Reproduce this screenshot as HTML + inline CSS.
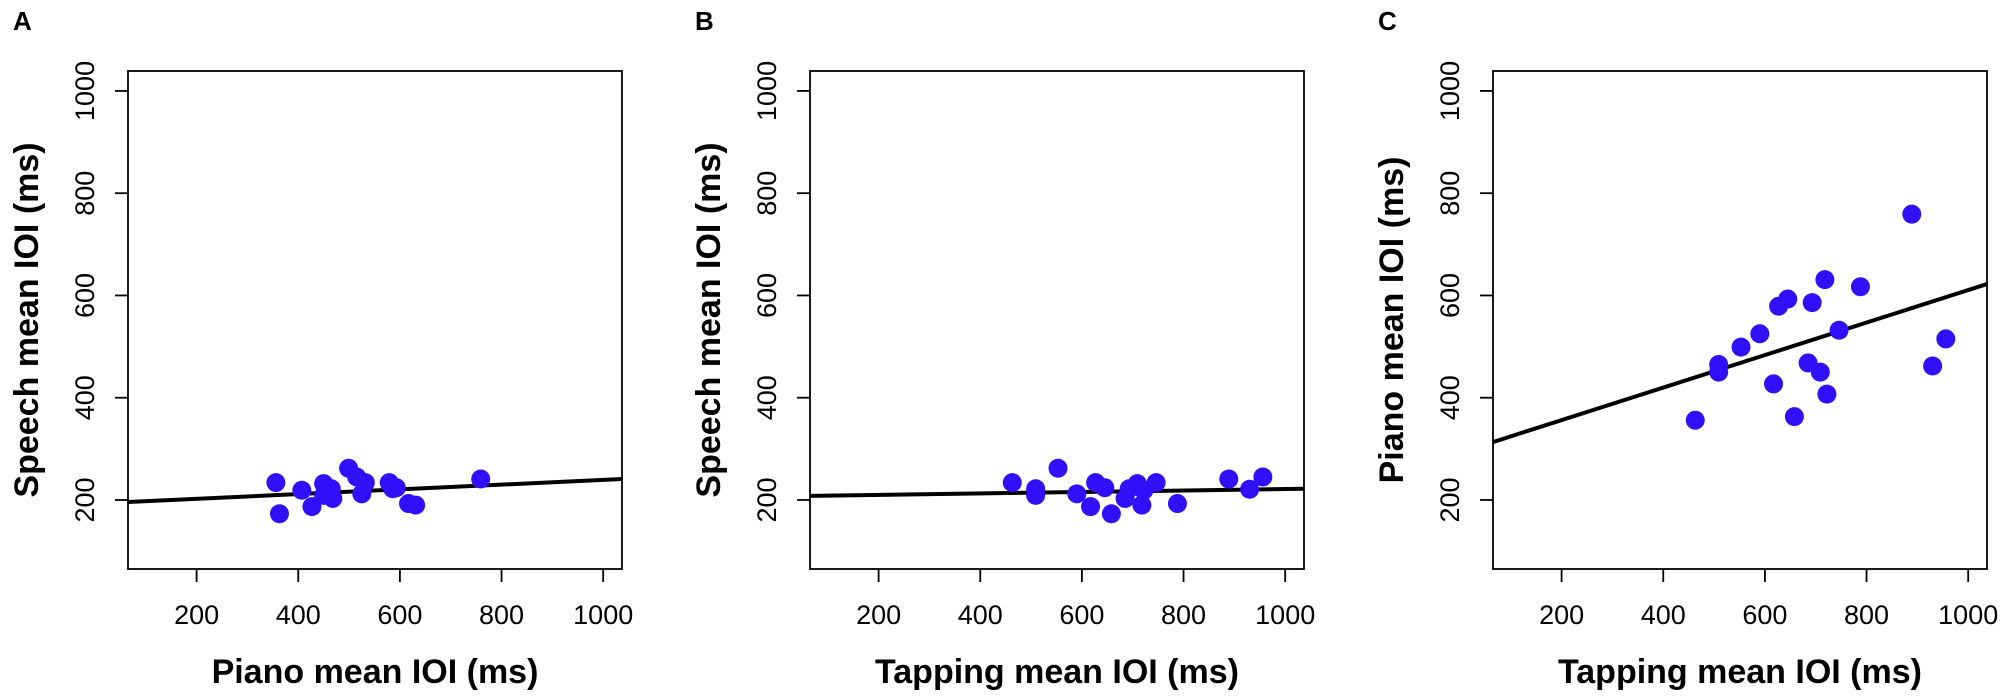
<!DOCTYPE html>
<html><head><meta charset="utf-8">
<style>
html,body{margin:0;padding:0;background:#fff;}
svg{display:block;font-family:"Liberation Sans",Arial,sans-serif;}
</style></head>
<body>
<svg id="fig" width="2008" height="698" viewBox="0 0 2008 698" xmlns="http://www.w3.org/2000/svg"></svg>
<script>
const tapping = [463,509,509,553,590,617,627,645,658,685,693,709,718,722,746,788,889,930,956];
const piano   = [356,465,450,499,525,427,579,593,363,468,586,450,631,407,532,617,759,462,515];
const speech  = [234,222,209,262,212,187,234,224,173,203,222,232,190,219,234,193,241,221,245];
const tickValues = [200,400,600,800,1000];
const tickLabels = ["200","400","600","800","1000"];
const panelLetters = ["A","B","C"];
const xTitles = ["Piano mean IOI (ms)","Tapping mean IOI (ms)","Tapping mean IOI (ms)"];
const yTitles = ["Speech mean IOI (ms)","Speech mean IOI (ms)","Piano mean IOI (ms)"];
const fitIntercepts = [193, 207, 292.6];
const fitSlopes = [0.0463, 0.0144, 0.318];

const NS = "http://www.w3.org/2000/svg";
const svg = document.getElementById("fig");
const X0 = 65, X1 = 1037, Y0 = 65, Y1 = 1039;
const BW = 494, BT = 71, BH = 498;
const lefts = [128, 810, 1493];

function mk(tag, attrs, parent){
  const e = document.createElementNS(NS, tag);
  for (const k in attrs) e.setAttribute(k, attrs[k]);
  parent.appendChild(e);
  return e;
}

const panelX = [piano, tapping, tapping];
const panelY = [speech, speech, piano];

for (let p = 0; p < 3; p++) {
  const L = lefts[p];
  const sx = v => L + (v - X0) / (X1 - X0) * BW;
  const sy = v => BT + BH - (v - Y0) / (Y1 - Y0) * BH;
  const g = mk("g", {}, svg);
  
  

  const lab = mk("text", {x: L - 115, y: 30, "font-size": 26, "font-weight": "bold"}, g);
  lab.textContent = panelLetters[p];
  
  

  const clipId = "clip" + p;
  const cp = mk("clipPath", {id: clipId}, g);
  mk("rect", {x: L, y: BT, width: BW, height: BH}, cp);
  const ln = mk("line", {x1: sx(X0), y1: sy(fitIntercepts[p] + fitSlopes[p] * X0),
    x2: sx(X1), y2: sy(fitIntercepts[p] + fitSlopes[p] * X1),
    stroke: "#000", "stroke-width": 4, "clip-path": "url(#" + clipId + ")"}, g);
  
  

  const xs = panelX[p], ys = panelY[p];
  for (let i = 0; i < xs.length; i++) {
    const c = mk("circle", {cx: sx(xs[i]), cy: sy(ys[i]), r: 9.5, fill: "#3010f8"}, g);
    
    
  }

  const box = mk("rect", {x: L, y: BT, width: BW, height: BH, fill: "none", stroke: "#000", "stroke-width": 1.8}, g);
  
  

  for (let t = 0; t < tickValues.length; t++) {
    const xv = sx(tickValues[t]);
    const xt = mk("line", {x1: xv, y1: BT + BH, x2: xv, y2: BT + BH + 13, stroke: "#000", "stroke-width": 1.8}, g);
    
    
    const xl = mk("text", {x: xv, y: 624, "font-size": 27, "text-anchor": "middle"}, g);
    xl.textContent = tickLabels[t];
    
    

    const yv = sy(tickValues[t]);
    const yt = mk("line", {x1: L - 13, y1: yv, x2: L, y2: yv, stroke: "#000", "stroke-width": 1.8}, g);
    
    
    const yl = mk("text", {x: 0, y: 0, "font-size": 27, "text-anchor": "middle",
      transform: "translate(" + (L - 34) + "," + yv + ") rotate(-90)"}, g);
    yl.textContent = tickLabels[t];
    
    
  }

  const xtit = mk("text", {x: L + BW / 2, y: 683, "font-size": 34, "font-weight": "bold", "text-anchor": "middle"}, g);
  xtit.textContent = xTitles[p];
  
  

  const ytit = mk("text", {x: 0, y: 0, "font-size": 34, "font-weight": "bold", "text-anchor": "middle",
    transform: "translate(" + (L - 90) + "," + (BT + BH / 2) + ") rotate(-90)"}, g);
  ytit.textContent = yTitles[p];
  
  
}
</script>
</body></html>
